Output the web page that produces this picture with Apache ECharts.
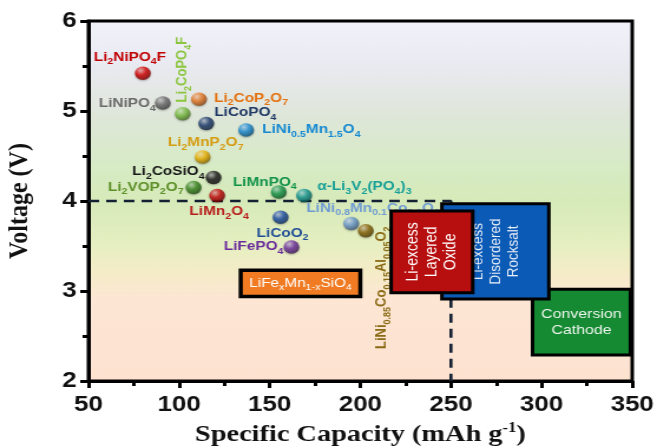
<!DOCTYPE html>
<html>
<head>
<meta charset="utf-8">
<script src="https://cdn.jsdelivr.net/npm/echarts@6/dist/echarts.min.js"></script>
<style>
  html, body { margin: 0; padding: 0; background: #ffffff; overflow: hidden; }
  /* the figure is laid out narrow and widened horizontally, like the original print */
  #chart { width: 557px; height: 448px; transform: scaleX(1.1795); transform-origin: 0 0; }
</style>
</head>
<body>
<div id="chart"></div>
<script>
// ---- cathode materials: name, specific capacity (mAh/g), average voltage (V) ----
const compounds = [
  'Li_{2}NiPO_{4}F', 'LiNiPO_{4}', 'Li_{2}CoPO_{4}F', 'Li_{2}CoP_{2}O_{7}',
  'LiCoPO_{4}', 'LiNi_{0.5}Mn_{1.5}O_{4}', 'Li_{2}MnP_{2}O_{7}', 'Li_{2}CoSiO_{4}',
  'Li_{2}VOP_{2}O_{7}', 'LiMn_{2}O_{4}', 'LiMnPO_{4}', 'α-Li_{3}V_{2}(PO_{4})_{3}',
  'LiCoO_{2}', 'LiFePO_{4}', 'LiNi_{0.8}Mn_{0.1}Co_{0.1}O_{2}', 'LiNi_{0.85}Co_{0.15}Al_{0.05}O_{2}'
];
const capacity = [80, 91, 102, 111, 115, 137, 113, 119, 108, 121, 155, 169, 156, 162, 195, 203];
const voltage  = [5.42, 5.09, 4.97, 5.13, 4.86, 4.79, 4.49, 4.26, 4.15, 4.06, 4.10, 4.06, 3.82, 3.49, 3.75, 3.67];

// ---- material families drawn as boxes ----
const familyNames   = ['LiFe_{x}Mn_{1-x}SiO_{4}', 'Conversion\nCathode', 'Li-excess\nDisordered\nRocksalt', 'Li-excess\nLayered\nOxide'];
const familyCapFrom = [134, 295, 245, 217];
const familyCapTo   = [200, 349, 304, 262];
const familyVFrom   = [2.94, 2.29, 2.91, 2.98];
const familyVTo     = [3.23, 3.02, 3.97, 3.89];

// ---- dashed guide: 4 V / 250 mAh/g ----
const guideCapacity = [50, 250, 250];
const guideVoltage  = [4, 4, 2];

// ---- axis ticks ----
const capacityTicks = [50, 100, 150, 200, 250, 300, 350];
const voltageTicks  = [2, 3, 4, 5, 6];

// horizontal widening applied by CSS (offsets below are given in on-screen pixels)
const STRETCH = 1.1795;
const SANS = '"Liberation Sans", Arial, sans-serif';
const SERIF = '"Liberation Serif", "Times New Roman", serif';

// ball colour, label colour and label placement for each material
const look = {
  'Li_{2}NiPO_{4}F':                 { ball: '#d80000', text: '#c00000', align: 'center', dx: -13, dy: -16 },
  'LiNiPO_{4}':                      { ball: '#6e6e6e', text: '#6a6a6a', align: 'right',  dx: -7,  dy: 1 },
  'Li_{2}CoPO_{4}F':                 { ball: '#7cc242', text: '#8cc63f', align: 'center', dx: 0,   dy: -44, rotate: true },
  'Li_{2}CoP_{2}O_{7}':              { ball: '#ec7a25', text: '#e4700e', align: 'left',   dx: 15,  dy: -1 },
  'LiCoPO_{4}':                      { ball: '#1e3d70', text: '#1f3864', align: 'left',   dx: 8,   dy: -11 },
  'LiNi_{0.5}Mn_{1.5}O_{4}':         { ball: '#1b8fd8', text: '#1589d2', align: 'left',   dx: 16,  dy: 0 },
  'Li_{2}MnP_{2}O_{7}':              { ball: '#f2b600', text: '#d49c12', align: 'center', dx: 3,   dy: -14 },
  'Li_{2}CoSiO_{4}':                 { ball: '#1c1c1c', text: '#161616', align: 'right',  dx: -9,  dy: -6 },
  'Li_{2}VOP_{2}O_{7}':              { ball: '#3b8a1f', text: '#5e9028', align: 'right',  dx: -10, dy: 0 },
  'LiMn_{2}O_{4}':                   { ball: '#c80808', text: '#b81c1c', align: 'center', dx: 2,   dy: 16 },
  'LiMnPO_{4}':                      { ball: '#189a4a', text: '#13934a', align: 'center', dx: -14, dy: -10 },
  'α-Li_{3}V_{2}(PO_{4})_{3}':       { ball: '#139a94', text: '#17a097', align: 'left',   dx: 13,  dy: -9 },
  'LiCoO_{2}':                       { ball: '#1d50a8', text: '#1f4e96', align: 'center', dx: 2,   dy: 16 },
  'LiFePO_{4}':                      { ball: '#7030a0', text: '#6a2c9c', align: 'right',  dx: -8,  dy: 0 },
  'LiNi_{0.8}Mn_{0.1}Co_{0.1}O_{2}': { ball: '#6d9cd2', text: '#6f9bd4', align: 'left',   dx: -45, dy: -15 },
  'LiNi_{0.85}Co_{0.15}Al_{0.05}O_{2}': { ball: '#8a6508', text: '#8a6a14', align: 'center', dx: 16, dy: 57, rotate: true }
};

const familyLook = [
  { fill: '#f07b22', text: '#ffffff', size: 13, lineHeight: 16, rotate: false, border: 3.5 },
  { fill: '#158a32', text: '#eef5ee', size: 13.5, lineHeight: 16, rotate: false, border: 3 },
  { fill: '#0b5ab6', text: '#e8eef8', size: 13.5, lineHeight: 15, rotate: true, border: 3 },
  { fill: '#b70f0f', text: '#ffffff', size: 14, lineHeight: 16, rotate: true, border: 3 }
];

// 'Li_{2}O' -> '{n|Li}{s|2}{n|O}' for rich text
function formulaRich(f) {
  const parts = f.split(/_\{([^}]*)\}/);
  let out = '';
  parts.forEach(function (p, k) {
    if (!p) return;
    out += (k % 2 ? '{s|' : '{n|') + p + '}';
  });
  return out;
}
function richStyles(color, size, weight) {
  return {
    n: { fill: color, fontSize: size, fontWeight: weight, fontFamily: SANS, lineHeight: size + 5, verticalAlign: 'middle' },
    s: { fill: color, fontSize: Math.round(size * 0.68), fontWeight: weight, fontFamily: SANS, lineHeight: Math.round(size * 0.68), verticalAlign: 'bottom' }
  };
}

function mix(hex, t) {
  const n = parseInt(hex.slice(1), 16);
  let r = (n >> 16) & 255, g = (n >> 8) & 255, b = n & 255;
  const target = t > 0 ? 255 : 0, a = Math.abs(t);
  r = Math.round(r + (target - r) * a);
  g = Math.round(g + (target - g) * a);
  b = Math.round(b + (target - b) * a);
  return 'rgb(' + r + ',' + g + ',' + b + ')';
}
function sphere(hex) {
  return {
    type: 'radial', x: 0.36, y: 0.3, r: 0.78,
    colorStops: [
      { offset: 0, color: mix(hex, 0.65) },
      { offset: 0.45, color: hex },
      { offset: 1, color: mix(hex, -0.5) }
    ]
  };
}

const points = compounds.map(function (c, i) {
  return { name: c, value: [capacity[i], voltage[i]], itemStyle: { color: sphere(look[c].ball) } };
});
const families = familyNames.map(function (f, i) {
  return { name: f, value: [familyCapFrom[i], familyCapTo[i], familyVFrom[i], familyVTo[i]] };
});
const guide = guideCapacity.map(function (c, i) { return [c, guideVoltage[i]]; });

const background = new echarts.graphic.LinearGradient(0, 0, 0, 1, [
  { offset: 0.00, color: '#f2f2fa' },
  { offset: 0.12, color: '#eaeaf2' },
  { offset: 0.26, color: '#dfe6da' },
  { offset: 0.40, color: '#d7ebc6' },
  { offset: 0.50, color: '#d6eab9' },
  { offset: 0.62, color: '#e6efc1' },
  { offset: 0.70, color: '#f5ecc8' },
  { offset: 0.77, color: '#fde6d4' },
  { offset: 1.00, color: '#fde2d0' }
]);

const chart = echarts.init(document.getElementById('chart'), null, { renderer: 'canvas' });

chart.setOption({
  animation: false,
  backgroundColor: '#ffffff',
  grid: {
    left: 75, right: 21, top: 21, bottom: 67,
    containLabel: false, outerBoundsMode: 'none',
    show: true, backgroundColor: background,
    borderColor: '#000000', borderWidth: 3
  },
  xAxis: {
    type: 'value',
    min: capacityTicks[0], max: capacityTicks[capacityTicks.length - 1],
    interval: capacityTicks[1] - capacityTicks[0],
    axisLine: { show: true, onZero: false, lineStyle: { color: '#000', width: 3 } },
    axisTick: { show: true, length: 7, lineStyle: { color: '#000', width: 3 } },
    minorTick: { show: true, splitNumber: 2, length: 5, lineStyle: { color: '#000', width: 3 } },
    splitLine: { show: false },
    axisLabel: { color: '#111', fontSize: 22, fontWeight: 'bold', fontFamily: SANS, margin: 13 },
    name: '{t|Specific Capacity (mAh g}{sup|-1}{t|)}',
    nameLocation: 'middle', nameGap: 37,
    nameTextStyle: {
      rich: {
        t: { fontFamily: SERIF, fontWeight: 'bold', fontSize: 24, color: '#111', lineHeight: 28, verticalAlign: 'middle' },
        sup: { fontFamily: SERIF, fontWeight: 'bold', fontSize: 14, color: '#111', lineHeight: 14, verticalAlign: 'top' }
      }
    }
  },
  yAxis: {
    type: 'value',
    min: voltageTicks[0], max: voltageTicks[voltageTicks.length - 1],
    interval: voltageTicks[1] - voltageTicks[0],
    axisLine: { show: true, onZero: false, lineStyle: { color: '#000', width: 3 } },
    axisTick: { show: true, length: 7, lineStyle: { color: '#000', width: 3 } },
    minorTick: { show: true, splitNumber: 2, length: 5, lineStyle: { color: '#000', width: 3 } },
    splitLine: { show: false },
    axisLabel: { color: '#111', fontSize: 22, fontWeight: 'bold', fontFamily: SANS, margin: 10 },
    name: 'Voltage (V)',
    nameLocation: 'middle', nameGap: 46, nameRotate: 90,
    nameTextStyle: { fontFamily: SERIF, fontWeight: 'bold', fontSize: 24, color: '#111' }
  },
  series: [
    {
      // 4 V / 250 mAh/g guide
      type: 'line', data: guide, z: 2, silent: true,
      symbol: 'none',
      lineStyle: { color: '#142033', width: 2.6, type: [9, 6] }
    },
    {
      type: 'scatter', data: points, z: 3,
      symbolSize: 13.5,
      itemStyle: { shadowBlur: 2, shadowColor: 'rgba(0,0,0,0.35)', shadowOffsetY: 1 }
    },
    {
      // material labels
      type: 'custom', z: 4, silent: true,
      data: compounds.map(function (c, i) { return [capacity[i], voltage[i]]; }),
      encode: { x: 0, y: 1 },
      renderItem: function (params, api) {
        const c = compounds[params.dataIndex];
        const L = look[c];
        const p = api.coord([api.value(0), api.value(1)]);
        return {
          type: 'text',
          x: p[0] + L.dx / STRETCH,
          y: p[1] + L.dy,
          rotation: L.rotate ? Math.PI / 2 : 0,
          style: {
            text: formulaRich(c),
            rich: richStyles(L.text, 13, 'bold'),
            fill: L.text,
            align: L.align,
            verticalAlign: 'middle'
          }
        };
      }
    },
    {
      // material families
      type: 'custom', z: 5, silent: true,
      data: families,
      encode: { x: [0, 1], y: [2, 3] },
      renderItem: function (params, api) {
        const i = params.dataIndex;
        const F = familyLook[i];
        const a = api.coord([api.value(0), api.value(3)]);
        const b = api.coord([api.value(1), api.value(2)]);
        const name = familyNames[i];
        const isFormula = name.indexOf('_{') >= 0;
        const textStyle = isFormula
          ? { text: formulaRich(name), rich: richStyles(F.text, F.size, 'normal'), fill: F.text, align: 'center', verticalAlign: 'middle' }
          : { text: name, fill: F.text, fontSize: F.size, fontFamily: SANS, lineHeight: F.lineHeight, align: 'center', verticalAlign: 'middle' };
        return {
          type: 'group',
          children: [
            {
              type: 'rect',
              shape: { x: a[0], y: a[1], width: b[0] - a[0], height: b[1] - a[1] },
              style: { fill: F.fill, stroke: '#000000', lineWidth: F.border }
            },
            {
              type: 'text',
              x: (a[0] + b[0]) / 2,
              y: (a[1] + b[1]) / 2,
              rotation: F.rotate ? Math.PI / 2 : 0,
              style: textStyle
            }
          ]
        };
      }
    }
  ]
});
</script>
</body>
</html>
